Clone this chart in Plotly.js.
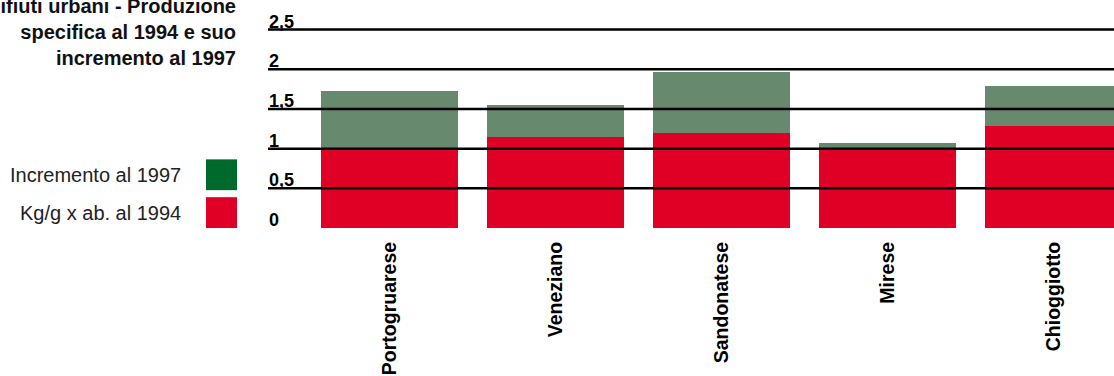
<!DOCTYPE html>
<html>
<head>
<meta charset="utf-8">
<script src="https://cdn.plot.ly/plotly-3.0.1.min.js"></script>
<style>
  html, body { margin: 0; padding: 0; background: #ffffff; }
  #chart { width: 1114px; height: 376px; }
</style>
</head>
<body>
<div id="chart"></div>
<script>
// Municipal waste per district: 1994 level plus the increase to 1997
const categories = ['Portogruarese', 'Veneziano', 'Sandonatese', 'Mirese', 'Chioggiotto'];
const base1994 = [1.0, 1.15, 1.2, 1.0, 1.29];
const increment1997 = [0.72, 0.40, 0.77, 0.07, 0.50];

const tickVals = [0, 0.5, 1, 1.5, 2, 2.5];
const tickText = ['0', '0,5', '1', '1,5', '2', '2,5'];

const seriesNames = ['Kg/g x ab. al 1994', 'Incremento al 1997'];
const barColors = ['#e00025', '#678a6e'];
const keyColors = ['#e00025', '#006a2d'];

const titleText = 'Rifiuti urbani - Produzione<br>specifica al 1994 e suo<br>incremento al 1997';

// plot frame in pixels
const W = 1114, H = 376;
const plotLeft = 268, plotRight = 1114;
const plotTop = 28.4, plotBottom = 227.7;
const px2paperX = p => (p - plotLeft) / (plotRight - plotLeft);
const px2paperY = p => (plotBottom - p) / (plotBottom - plotTop);

const FONT = 'Liberation Sans, Arial, sans-serif';

const traces = [
  {
    type: 'bar', name: seriesNames[0], x: categories, y: base1994,
    marker: { color: barColors[0], line: { width: 0 } },
    hoverinfo: 'skip'
  },
  {
    type: 'bar', name: seriesNames[1], x: categories, y: increment1997,
    marker: { color: barColors[1], line: { width: 0 } },
    hoverinfo: 'skip'
  }
];

// horizontal rules drawn above the bars
const shapes = tickVals.filter(v => v > 0).map(v => ({
  type: 'line', xref: 'paper', yref: 'y', x0: 0, x1: 1, y0: v, y1: v,
  line: { color: '#000000', width: 2.5 }, layer: 'above'
}));

// value labels sitting on top of each rule
const annotations = tickVals.map((v, i) => ({
  xref: 'paper', yref: 'y', x: 0, y: v,
  xanchor: 'left', yanchor: 'bottom', showarrow: false,
  text: tickText[i], xshift: -1, yshift: -4,
  font: { family: FONT, size: 18, color: '#000000', weight: 700 }
}));

// key on the left: colored squares with right-aligned labels
const keyOrder = [1, 0];
const keyBoxes = [[159.3, 190], [197, 227.7]];
keyOrder.forEach((s, k) => {
  const [top, bottom] = keyBoxes[k];
  shapes.push({
    type: 'rect', xref: 'paper', yref: 'paper',
    x0: px2paperX(206), x1: px2paperX(237),
    y0: px2paperY(bottom), y1: px2paperY(top),
    fillcolor: keyColors[s], line: { width: 0 }, layer: 'above'
  });
  annotations.push({
    xref: 'paper', yref: 'paper',
    x: px2paperX(183), y: px2paperY((top + bottom) / 2),
    xanchor: 'right', yanchor: 'middle', showarrow: false,
    text: seriesNames[s],
    font: { family: FONT, size: 20, color: '#222222' }
  });
});

const layout = {
  width: W, height: H,
  margin: { l: plotLeft, r: W - plotRight, t: plotTop, b: H - plotBottom, pad: 0 },
  paper_bgcolor: '#ffffff', plot_bgcolor: '#ffffff',
  showlegend: false,
  barmode: 'stack',
  bargap: 0.175,
  title: {
    text: titleText,
    xref: 'container', yref: 'container',
    x: 236 / W, xanchor: 'right',
    y: 0.965, yanchor: 'top', pad: { t: 0, b: 0, l: 0, r: 0 },
    font: { family: FONT, size: 20, color: '#111111', weight: 700 }
  },
  xaxis: {
    type: 'category', range: [-0.732, 4.364], fixedrange: true,
    showgrid: false, zeroline: false, showline: false, ticks: '',
    tickangle: -90, ticklabelstandoff: 9,
    tickfont: { family: FONT, size: 19.5, color: '#000000', weight: 700 },
    automargin: false
  },
  yaxis: {
    range: [0, 2.52], fixedrange: true,
    showgrid: false, zeroline: false, showline: false,
    showticklabels: false, ticks: '', automargin: false
  },
  shapes: shapes,
  annotations: annotations
};

Plotly.newPlot('chart', traces, layout, { displayModeBar: false, staticPlot: true });
</script>
</body>
</html>
